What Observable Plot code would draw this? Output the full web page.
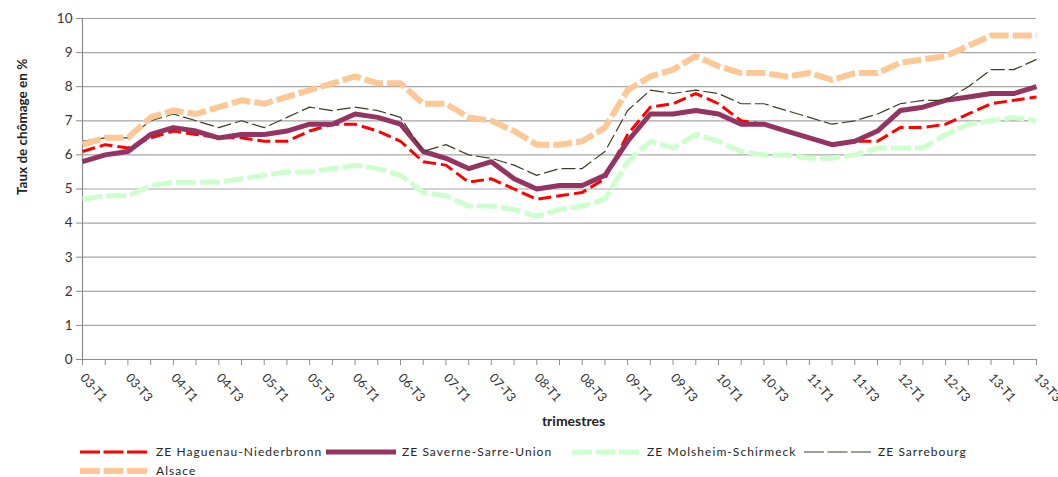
<!DOCTYPE html>
<html><head><meta charset="utf-8">
<script src="https://cdn.jsdelivr.net/npm/d3@7"></script>
<script src="https://cdn.jsdelivr.net/npm/@observablehq/plot@0.6"></script>
<style>
body{margin:0;background:#fff;font-family:Lato,"Open Sans",sans-serif;}
#wrap{position:relative;width:1058px;height:477px;overflow:hidden;}
#legend{position:absolute;left:0;top:0;width:1058px;height:477px;pointer-events:none;}
.sample{position:absolute;}
.label{position:absolute;font-size:12px;letter-spacing:1.05px;color:#262626;white-space:nowrap;line-height:15px;}
</style></head><body>
<div id="wrap"><div id="chart"></div><div id="legend"></div></div>
<script>
const quarters = ["03-T1","03-T2","03-T3","03-T4","04-T1","04-T2","04-T3","04-T4","05-T1","05-T2","05-T3","05-T4","06-T1","06-T2","06-T3","06-T4","07-T1","07-T2","07-T3","07-T4","08-T1","08-T2","08-T3","08-T4","09-T1","09-T2","09-T3","09-T4","10-T1","10-T2","10-T3","10-T4","11-T1","11-T2","11-T3","11-T4","12-T1","12-T2","12-T3","12-T4","13-T1","13-T2","13-T3"];
const haguenau = [6.1,6.3,6.2,6.5,6.7,6.6,6.5,6.5,6.4,6.4,6.7,6.9,6.9,6.7,6.4,5.8,5.7,5.2,5.3,5.0,4.7,4.8,4.9,5.3,6.6,7.4,7.5,7.8,7.5,7.0,6.9,6.7,6.5,6.3,6.4,6.4,6.8,6.8,6.9,7.2,7.5,7.6,7.7];
const saverne = [5.8,6.0,6.1,6.6,6.8,6.7,6.5,6.6,6.6,6.7,6.9,6.9,7.2,7.1,6.9,6.1,5.9,5.6,5.8,5.3,5.0,5.1,5.1,5.4,6.4,7.2,7.2,7.3,7.2,6.9,6.9,6.7,6.5,6.3,6.4,6.7,7.3,7.4,7.6,7.7,7.8,7.8,8.0];
const molsheim = [4.7,4.8,4.8,5.1,5.2,5.2,5.2,5.3,5.4,5.5,5.5,5.6,5.7,5.6,5.4,4.9,4.8,4.5,4.5,4.4,4.2,4.4,4.5,4.7,5.8,6.4,6.2,6.6,6.4,6.1,6.0,6.0,5.9,5.9,6.0,6.2,6.2,6.2,6.6,6.9,7.0,7.1,7.0];
const sarrebourg = [6.4,6.5,6.5,7.0,7.2,7.0,6.8,7.0,6.8,7.1,7.4,7.3,7.4,7.3,7.1,6.1,6.3,6.0,5.9,5.7,5.4,5.6,5.6,6.1,7.3,7.9,7.8,7.9,7.8,7.5,7.5,7.3,7.1,6.9,7.0,7.2,7.5,7.6,7.6,8.0,8.5,8.5,8.8];
const alsace = [6.3,6.5,6.5,7.1,7.3,7.2,7.4,7.6,7.5,7.7,7.9,8.1,8.3,8.1,8.1,7.5,7.5,7.1,7.0,6.7,6.3,6.3,6.4,6.8,7.9,8.3,8.5,8.9,8.6,8.4,8.4,8.3,8.4,8.2,8.4,8.4,8.7,8.8,8.9,9.2,9.5,9.5,9.5];
const seriesNames = ["ZE Haguenau-Niederbronn","ZE Saverne-Sarre-Union","ZE Molsheim-Schirmeck","ZE Sarrebourg","Alsace"];
const seriesValues = [haguenau, saverne, molsheim, sarrebourg, alsace];
const yTicks = [0,1,2,3,4,5,6,7,8,9,10];

// styles (kept apart from data)
const styles = [
  {color:"#ff0000", width:3, dash:"13,5", legendDash:"20,3.5"},
  {color:"#933462", width:5, dash:null, legendDash:null},
  {color:"#ccffcc", width:5, dash:"20,4", legendDash:"20,3.5"},
  {color:"#3d3d26", width:1.2, dash:"14,4", legendDash:"20,3.5"},
  {color:"#fdc896", width:6, dash:"19,4", legendDash:"20,3.5"}
];
// legend layout: [sample left, text left, row centre y]
const legendPos = [[80,156,452],[326,402,452],[572,647,452],[804,878,452],[80,156,471]];

const rows = seriesNames.flatMap((name, s) => seriesValues[s].map((v, i) => ({name, q: quarters[i], v})));

const lineMarks = seriesNames.map((name, s) => Plot.line(rows.filter(d => d.name === name), {
  x: "q", y: "v", stroke: styles[s].color, strokeWidth: styles[s].width,
  strokeDasharray: styles[s].dash ?? undefined, strokeLinejoin: "round", strokeLinecap: "butt"
}));

const chart = Plot.plot({
  width: 1058, height: 440,
  marginLeft: 82, marginRight: 22, marginTop: 18, marginBottom: 81,
  style: {fontFamily: "Lato, 'Open Sans', sans-serif", background: "#fff"},
  x: {type: "point", domain: quarters, padding: 0},
  y: {domain: [0, 10]},
  marks: [
    Plot.gridY(yTicks, {stroke: "#a6a6a6", strokeOpacity: 1, strokeWidth: 1.2}),
    Plot.ruleY([0], {stroke: "#8c8c8c", strokeWidth: 1.2}),
    Plot.ruleX([quarters[0]], {stroke: "#8c8c8c", strokeWidth: 1.2}),
    Plot.axisY(yTicks, {tickSize: 6, tickPadding: 4, label: null, fontSize: 13.5, stroke: "#8c8c8c", fill: "#333"}),
    Plot.axisX(quarters, {tickSize: 6, tickRotate: 48, tickPadding: 10, label: null, fontSize: 12.5, stroke: "#8c8c8c", fill: "#333",
      tickFormat: d => quarters.indexOf(d) % 2 === 0 ? d : ""}),
    ...lineMarks,
    Plot.text(["Taux de chômage en %"], {frameAnchor: "left", dx: -60, dy: 6, rotate: -90, fontWeight: "bold", fontSize: 13.5, fill: "#222"}),
    Plot.text(["trimestres"], {frameAnchor: "bottom", dy: 66, dx: 14, fontWeight: "bold", fontSize: 14, fill: "#222"})
  ]
});
document.getElementById("chart").appendChild(chart);

const legend = document.getElementById("legend");
seriesNames.forEach((name, s) => {
  const st = styles[s];
  const [sx, tx, cy] = legendPos[s];
  const svgNS = "http://www.w3.org/2000/svg";
  const svg = document.createElementNS(svgNS, "svg");
  svg.setAttribute("class", "sample");
  svg.setAttribute("width", 70); svg.setAttribute("height", 12);
  svg.style.left = sx + "px"; svg.style.top = (cy - 6) + "px";
  const line = document.createElementNS(svgNS, "line");
  line.setAttribute("x1", 0); line.setAttribute("x2", 70);
  line.setAttribute("y1", 6); line.setAttribute("y2", 6);
  line.setAttribute("stroke", st.color); line.setAttribute("stroke-width", st.width);
  if (st.legendDash) line.setAttribute("stroke-dasharray", st.legendDash);
  svg.appendChild(line);
  legend.appendChild(svg);
  const lab = document.createElement("div");
  lab.className = "label";
  lab.textContent = name;
  lab.style.left = tx + "px"; lab.style.top = (cy - 8) + "px";
  legend.appendChild(lab);
});
</script>
</body></html>
